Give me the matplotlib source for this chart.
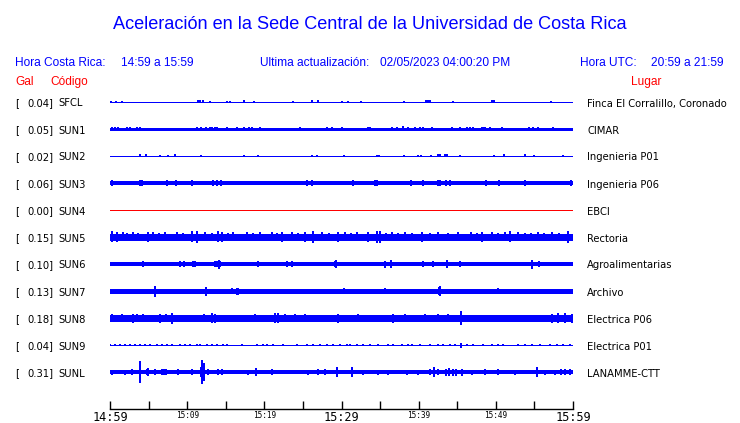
import matplotlib
matplotlib.use("Agg")
import matplotlib.pyplot as plt

W, H = 740, 423

codes = ["SFCL", "SUN1", "SUN2", "SUN3", "SUN4", "SUN5", "SUN6", "SUN7", "SUN8", "SUN9", "SUNL"]
gal = [0.04, 0.05, 0.02, 0.06, 0.00, 0.15, 0.10, 0.13, 0.18, 0.04, 0.31]
places = ["Finca El Corralillo, Coronado", "CIMAR", "Ingenieria P01", "Ingenieria P06", "EBCI",
          "Rectoria", "Agroalimentarias", "Archivo", "Electrica P06", "Electrica P01", "LANAMME-CTT"]

# minutes after 14:59
tick_minutes = [0, 10, 20, 30, 40, 50, 60]
tick_labels = ["14:59", "15:09", "15:19", "15:29", "15:39", "15:49", "15:59"]

# background noise half-width of every trace (pixels)
base_amp = [0.5, 0.6, 0.5, 1.8, 0.5, 3.3, 1.9, 1.7, 2.6, 0.5, 2.0]

# (minute, half amplitude in pixels)
sfcl_peaks = [(0.1, 1), (0.75, 1), (1.5, 1), (11.4, 1.5), (11.7, 1.5), (12.0, 1.5), (13.0, 1),
              (15.1, 1), (15.6, 1), (17.4, 1.5), (18.7, 1), (23.7, 1), (26.2, 1.5), (27.0, 1.5),
              (30.1, 1), (30.8, 1), (32.5, 1), (38.1, 1), (40.9, 1.5), (41.2, 1.5), (41.5, 1.5),
              (44.4, 1), (49.5, 1.5), (49.8, 1.5), (57.2, 1)]
sun1_peaks = [(0.22, 1.5), (0.65, 1.5), (1.08, 1.5), (1.73, 1.3), (2.16, 1.5), (2.59, 1.5),
              (3.46, 1.5), (3.89, 1.5), (4.53, 1.3), (5.4, 1.3), (6.26, 1.3), (7.13, 1.3),
              (8.21, 1.3), (9.29, 1.3), (10.15, 1.3), (11.23, 1.5), (11.79, 1.5), (12.44, 1.5),
              (12.96, 1.5), (13.26, 1.5), (13.6, 1.5), (13.82, 1.5), (15.12, 1.5), (15.77, 1.3),
              (16.5, 1.5), (17.37, 1.5), (18.06, 1.5), (18.4, 1.5), (19.01, 1.3), (19.48, 1.5),
              (20.52, 1.3), (21.3, 1.3), (21.81, 1.3), (22.25, 1.3), (23.76, 1.3), (24.62, 1.5),
              (25.7, 1.3), (26.13, 1.3), (26.57, 1.3), (27.0, 1.3), (28.08, 1.5), (28.73, 1.5),
              (29.16, 1.3), (29.59, 1.3), (30.1, 1.5), (30.67, 1.3), (31.32, 1.3), (32.19, 1.3),
              (33.48, 1.5), (33.7, 1.5), (35.64, 1.3), (36.5, 1.5), (37.24, 1.5), (37.93, 2.5),
              (38.67, 1.5), (39.53, 1.5), (40.18, 1.5), (40.61, 1.5), (41.69, 1.5), (42.34, 1.3),
              (43.55, 1.3), (44.28, 1.5), (45.36, 1.5), (46.23, 1.5), (46.66, 1.5), (47.09, 1.5),
              (48.17, 2), (48.39, 2), (48.6, 2), (49.25, 1.5), (50.11, 1.3), (50.76, 1.5),
              (51.63, 1.3), (52.49, 1.3), (53.14, 1.3), (54.3, 1.5), (54.87, 1.5), (55.51, 1.5),
              (56.16, 1.3), (57.46, 1.5), (57.89, 1.3), (58.75, 1.3)]
sun2_peaks = [(3.89, 1.5), (4.66, 1.5), (6.52, 1.2), (7.47, 1.3), (8.38, 1.5), (11.84, 1.2),
              (17.41, 1.2), (19.22, 1.2), (26.22, 1.2), (26.87, 1.2), (30.37, 1.2), (34.65, 1.2),
              (34.91, 1.2), (38.15, 1), (39.96, 1), (40.35, 1), (41.65, 1), (42.55, 1.5),
              (42.77, 1.5), (43.42, 1.5), (43.63, 1.5), (45.36, 1), (49.81, 1), (51.11, 1.5),
              (53.83, 1.5), (54.95, 1), (58.71, 1)]
sun3_peaks = [(0.3, 2.8), (3.9, 3), (4.1, 3), (7.4, 3), (8.5, 2.6), (10.6, 2.6), (13.4, 3),
              (13.9, 2.6), (14.4, 3), (25.5, 3), (26.2, 3), (31.5, 2.6), (33.0, 2.4), (34.4, 3),
              (34.6, 3), (39.0, 3), (40.5, 2.6), (42.5, 3.2), (42.7, 3), (43.5, 3), (44.1, 2.6),
              (48.7, 3), (50.4, 2.6), (53.8, 3), (59.7, 2.6)]
sun4_peaks = []
sun5_peaks = [(0.3, 5.5), (0.86, 5), (1.73, 4.5), (2.2, 4), (3.0, 4.5), (3.6, 4), (4.97, 5),
              (5.6, 4.5), (6.3, 4), (7.13, 4.5), (8.64, 4.5), (9.5, 4), (10.58, 5.5), (11.23, 6),
              (12.31, 4.5), (13.2, 4), (14.04, 5.5), (14.47, 5), (15.3, 4), (16.0, 4.5),
              (17.71, 4.5), (18.5, 4), (19.5, 4.5), (20.95, 4.5), (21.6, 4), (22.25, 5),
              (23.54, 4.5), (24.3, 4), (25.27, 5), (26.35, 6), (27.43, 4.5), (28.4, 4),
              (29.59, 5), (30.45, 4.5), (31.2, 4), (32.0, 4.5), (33.48, 5), (34.56, 6),
              (34.99, 6), (35.8, 4), (36.5, 4.5), (37.3, 4), (38.23, 4.5), (39.2, 4), (40.39, 5),
              (41.5, 4), (42.55, 4.5), (43.8, 4), (45.14, 4.5), (46.8, 4.5), (47.5, 4),
              (48.16, 5), (49.46, 4.5), (50.3, 4), (51.19, 4.5), (51.84, 5.5), (52.92, 4.5),
              (53.8, 4), (54.6, 4), (55.51, 4.5), (56.3, 4), (57.24, 4.5), (58.2, 4), (59.4, 6)]
sun6_peaks = [(4.32, 2.6), (9.07, 2.6), (9.63, 2.6), (10.8, 2.8), (11.0, 2.8), (13.6, 2.8),
              (13.9, 3), (14.1, 4.5), (14.3, 3), (19.2, 2.6), (23.0, 2.6), (23.6, 2.6), (29.1, 3),
              (29.3, 4), (35.64, 3.5), (36.38, 4), (40.6, 2.6), (41.9, 3), (43.7, 4), (45.36, 2.6),
              (54.65, 4.5), (55.56, 2.6)]
sun7_peaks = [(0.5, 2.5), (1.0, 2.3), (1.8, 2.3), (2.6, 2.3), (5.83, 5.5), (7.9, 2.5),
              (8.6, 2.3), (9.3, 2.5), (10.5, 2.5), (12.5, 4.5), (14.7, 2.3), (15.5, 2.5),
              (15.8, 3), (16.4, 3.5), (16.6, 3.5), (19.7, 2.5), (20.5, 2.5), (21.2, 2.5),
              (24.2, 2.5), (28.2, 2.3), (29.7, 2.5), (30.3, 3), (30.9, 2.5), (31.5, 2.5),
              (34.4, 2.5), (35.7, 3), (37.8, 2.5), (38.7, 2.5), (39.5, 2.3), (41.0, 2.5),
              (41.7, 2.5), (42.6, 4), (42.8, 5), (45.1, 2.5), (45.8, 2.5), (48.3, 2.5), (50.3, 3),
              (51.6, 2.5), (52.2, 2.5), (52.7, 2.5), (54.7, 2.5), (56.9, 2.5), (58.3, 2.5),
              (59.8, 2.5)]
sun8_peaks = [(0.3, 4), (0.8, 3.5), (1.51, 4), (2.2, 3.5), (3.02, 4.5), (3.5, 4), (4.3, 4),
              (5.3, 3.5), (6.48, 4.5), (7.3, 4), (8.0, 5.5), (9.2, 3.5), (10.3, 3.5), (11.5, 3.5),
              (12.2, 4), (13.17, 5), (13.61, 4.5), (15.2, 3.5), (16.5, 3.5), (18.79, 4),
              (20.0, 3.5), (21.4, 5), (21.8, 5), (22.68, 4), (23.97, 4), (25.27, 4), (26.5, 3.5),
              (27.8, 3.5), (29.59, 4.5), (31.0, 3.5), (32.18, 4), (34.0, 3.5), (35.2, 3.5),
              (36.72, 4.5), (38.23, 4), (39.6, 3.5), (40.82, 4), (42.55, 4), (43.85, 4),
              (45.49, 7), (46.87, 3.5), (48.3, 3.5), (49.89, 3.5), (51.5, 3.5), (52.92, 3.5),
              (53.78, 3.5), (55.6, 3.5), (57.24, 4.5), (58.1, 5), (58.96, 5), (59.83, 4.5)]
sun9_peaks = [(0.0, 1.2), (0.65, 1.2), (1.3, 1.2), (1.94, 1.2), (2.59, 1.2), (3.24, 1.2),
              (3.89, 1.2), (4.54, 1.2), (5.18, 1.2), (6.05, 1.2), (6.7, 1.2), (7.34, 1.2),
              (7.99, 1.2), (9.07, 1.2), (9.72, 1.2), (10.37, 1.2), (11.23, 1.2), (11.66, 1.2),
              (12.53, 1.2), (13.18, 1.2), (13.82, 1.2), (14.69, 1.2), (15.12, 1.2), (17.06, 1.2),
              (19.01, 1.2), (19.87, 1.2), (20.3, 1.2), (21.17, 1.2), (22.46, 1.2), (24.19, 1.2),
              (25.49, 1.2), (26.35, 1.2), (27.22, 1.2), (28.08, 1.2), (28.94, 1.2), (29.81, 1.2),
              (30.67, 1.2), (31.1, 1.2), (31.97, 1.2), (32.83, 1.2), (33.7, 1.2), (34.78, 1.2),
              (36.07, 1.2), (36.72, 1.2), (37.8, 1.2), (38.67, 1.2), (39.1, 1.2), (40.18, 1.2),
              (41.47, 1.2), (42.55, 1.2), (43.2, 1.2), (44.07, 1.2), (44.71, 1.2), (45.49, 2.5),
              (46.23, 1.2), (47.09, 1.2), (48.39, 1.2), (49.47, 1.2), (50.33, 1.2), (50.98, 1.2),
              (52.92, 1.2), (53.78, 1.2), (54.65, 1.2), (55.73, 1.2), (57.03, 1.2), (57.89, 1.2),
              (58.75, 1.2), (59.62, 1.2)]
sunl_peaks = [(0.22, 2.5), (1.94, 2.5), (2.8, 3), (3.93, 11), (4.75, 3), (4.97, 4), (5.83, 3),
              (6.7, 3), (7.0, 3), (7.3, 3), (8.85, 3), (10.58, 3), (11.79, 5), (11.97, 12),
              (12.18, 9), (12.74, 3), (14.04, 3), (14.47, 3), (17.93, 2.5), (18.88, 4),
              (20.95, 3), (25.7, 2.5), (27.0, 3), (27.86, 3), (29.46, 5), (31.32, 5), (32.83, 2.5),
              (34.77, 2.5), (36.07, 2.5), (38.45, 2.5), (39.96, 2.5), (41.47, 3), (42.03, 5),
              (42.55, 3), (43.6, 3.5), (43.98, 4), (44.4, 3.5), (44.9, 3.5), (45.6, 3.5),
              (46.87, 2.5), (48.6, 3), (50.32, 3), (52.48, 2.5), (55.34, 5), (56.37, 2.5),
              (57.67, 2.5), (58.5, 3), (59.0, 3), (59.6, 3)]

peaks = [sfcl_peaks, sun1_peaks, sun2_peaks, sun3_peaks, sun4_peaks, sun5_peaks,
         sun6_peaks, sun7_peaks, sun8_peaks, sun9_peaks, sunl_peaks]
trace_colors = ["blue"] * 4 + ["red"] + ["blue"] * 6

ROW = 27          # pixels between traces
TOP = 102         # pixel row of first trace
X0, X1 = 110, 573 # trace extent in pixels
PT = 0.72         # points per pixel at dpi 100

fig = plt.figure(figsize=(W / 100, H / 100), dpi=100)


def fx(px):
    return px / W


def fy(py):
    return 1 - py / H


# traces
ax = fig.add_axes([fx(X0), fy(TOP + 10.5 * ROW), (X1 - X0) / W, 11 * ROW / H])
ax.set_xlim(0, 60)
ax.set_ylim(10.5 * ROW, -0.5 * ROW)
ax.axis("off")
for i in range(len(codes)):
    yc = i * ROW
    c = trace_colors[i]
    ax.hlines(yc, 0, 60, color=c, lw=2 * base_amp[i] * PT, antialiased=False)
    for t, a in peaks[i]:
        ax.vlines(t, yc - a, yc + a, color=c, lw=1.6 * PT, antialiased=False)

# time axis
tax = fig.add_axes([fx(X0), fy(409), (X1 - X0) / W, 0.01])
tax.set_xlim(0, 60)
tax.set_ylim(0, 1)
for s in ["top", "left", "right"]:
    tax.spines[s].set_visible(False)
tax.spines["bottom"].set_linewidth(1.0)
tax.set_yticks([])
tax.set_xticks(range(0, 61, 5))
tax.set_xticklabels([tick_labels[tick_minutes.index(m)] if m in tick_minutes else "" for m in range(0, 61, 5)])
tax.tick_params(axis="x", direction="in", length=8 * PT, width=1.0, pad=1.5)
tax.patch.set_visible(False)
for lab in tax.get_xticklabels():
    big = lab.get_text() in ("14:59", "15:29", "15:59")
    lab.set_fontfamily("DejaVu Sans Mono")
    lab.set_fontsize(8.6 if big else 5.6)

# header texts
sans = "Liberation Sans"
fig.text(0.5, fy(29), "Aceleración en la Sede Central de la Universidad de Costa Rica",
         ha="center", va="baseline", color="blue", fontsize=13.1, family=sans)
hdr = dict(va="baseline", color="blue", fontsize=8.6, family=sans)
fig.text(fx(15), fy(66), "Hora Costa Rica:", **hdr)
fig.text(fx(121), fy(66), "14:59 a 15:59", **hdr)
fig.text(fx(260), fy(66), "Ultima actualización:", **hdr)
fig.text(fx(380), fy(66), "02/05/2023 04:00:20 PM", **hdr)
fig.text(fx(580), fy(66), "Hora UTC:", **hdr)
fig.text(fx(651), fy(66), "20:59 a 21:59", **hdr)

red = dict(va="baseline", color="red", fontsize=8.6, family=sans)
fig.text(fx(15), fy(85), "Gal", **red)
fig.text(fx(50), fy(85), "Código", **red)
fig.text(fx(646), fy(85), "Lugar", ha="center", **red)

# station labels
for i in range(len(codes)):
    yb = TOP + i * ROW + 4.5
    lab = dict(va="baseline", color="black", fontsize=7.2, family="DejaVu Sans")
    fig.text(fx(15), fy(yb), "[", **lab)
    fig.text(fx(53.5), fy(yb), f"{gal[i]:.2f}]", ha="right", **lab)
    fig.text(fx(58.5), fy(yb), codes[i], **lab)
    fig.text(fx(587), fy(yb), places[i], **lab)

fig.savefig("out.png", dpi=100)
